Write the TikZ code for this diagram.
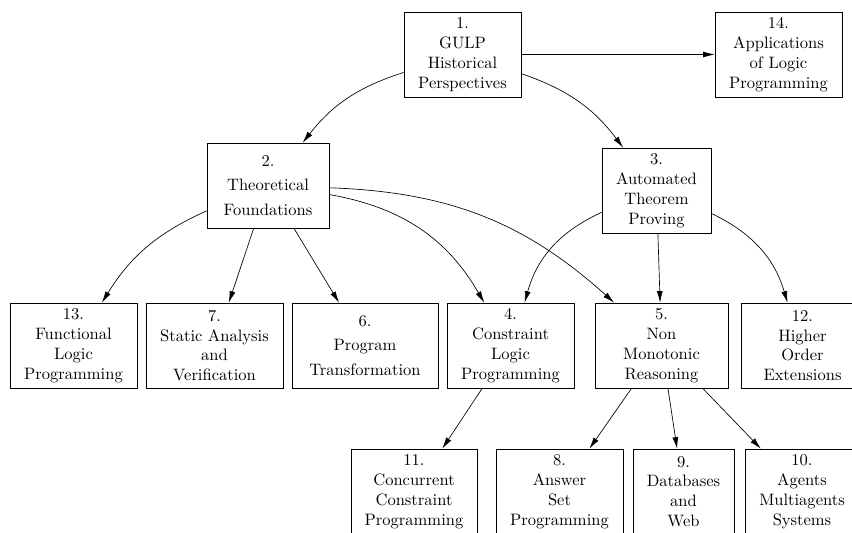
\documentclass[tikz,border=0pt]{standalone}
\usepackage{amsmath}
\usepackage{tikz}
\usetikzlibrary{arrows.meta}

\tikzset{
  topic/.style={draw, align=center, inner sep=2pt, minimum height=51.4pt},
  boxw/.style={minimum width=#1*0.605pt}
}

\begin{document}
\begin{tikzpicture}[x=0.605pt, y=0.605pt, >={Latex[length=7pt,width=3.6pt]}]
\useasboundingbox (0,0) rectangle (852,-532);

% Top level
\node[topic, boxw=117] (n1) at (462.5,-54.5) {1.\\ GULP\\ Historical\\ Perspectives};
\node[topic, boxw=127] (n14) at (778.5,-54.5) {14.\\ Applications\\ of Logic\\ Programming};

% Second level
\node[topic, boxw=122] (n2) at (268,-185.5) {2.\\[3pt] Theoretical\\[3pt] Foundations};
\node[topic, boxw=109] (n3) at (656.5,-190.5) {3.\\ Automated\\ Theorem\\ Proving};

% Third level
\node[topic, boxw=127] (n13) at (73.5,-345.5) {13.\\ Functional\\ Logic\\ Programming};
\node[topic, boxw=137] (n7) at (214.5,-345.5) {7.\\ Static Analysis\\ and\\ Verification};
\node[topic, boxw=146] (n6) at (365,-345.5) {6.\\[3pt] Program\\[3pt] Transformation};
\node[topic, boxw=127] (n4) at (510.5,-345.5) {4.\\ Constraint\\ Logic\\ Programming};
\node[topic, boxw=133] (n5) at (661.5,-345.5) {5.\\ Non\\ Monotonic\\ Reasoning};
\node[topic, boxw=123] (n12) at (802.5,-345.5) {12.\\ Higher\\ Order\\ Extensions};

% Fourth level
\node[topic, boxw=126] (n11) at (414,-491.5) {11.\\ Concurrent\\ Constraint\\ Programming};
\node[topic, boxw=127] (n8) at (559.5,-491.5) {8.\\ Answer\\ Set\\ Programming};
\node[topic, boxw=101] (n9) at (683.5,-491.5) {9.\\ Databases\\ and\\ Web};
\node[topic, boxw=114] (n10) at (802,-491.5) {10.\\ Agents\\ Multiagents\\ Systems};

% Connections
\draw[->] (n1) -- (n14);
\draw[->] (n1) to[bend right=17] (n2);
\draw[->] (n1) to[bend left=17] (n3);

\draw[->] (n2) to[bend right=17] (n13);
\draw[->] (n2) -- (n7);
\draw[->] (n2) -- (n6);
\draw[->] (n2) to[bend left=25] (n4);
\draw[->] (n2) to[bend left=20] (n5);

\draw[->] (n3) to[bend right=25] (n4);
\draw[->] (n3) -- (n5);
\draw[->] (n3) to[bend left=24] (n12);

\draw[->] (n4) -- (n11);
\draw[->] (n5) -- (n8);
\draw[->] (n5) -- (n9);
\draw[->] (n5) -- (n10);

\end{tikzpicture}
\end{document}
